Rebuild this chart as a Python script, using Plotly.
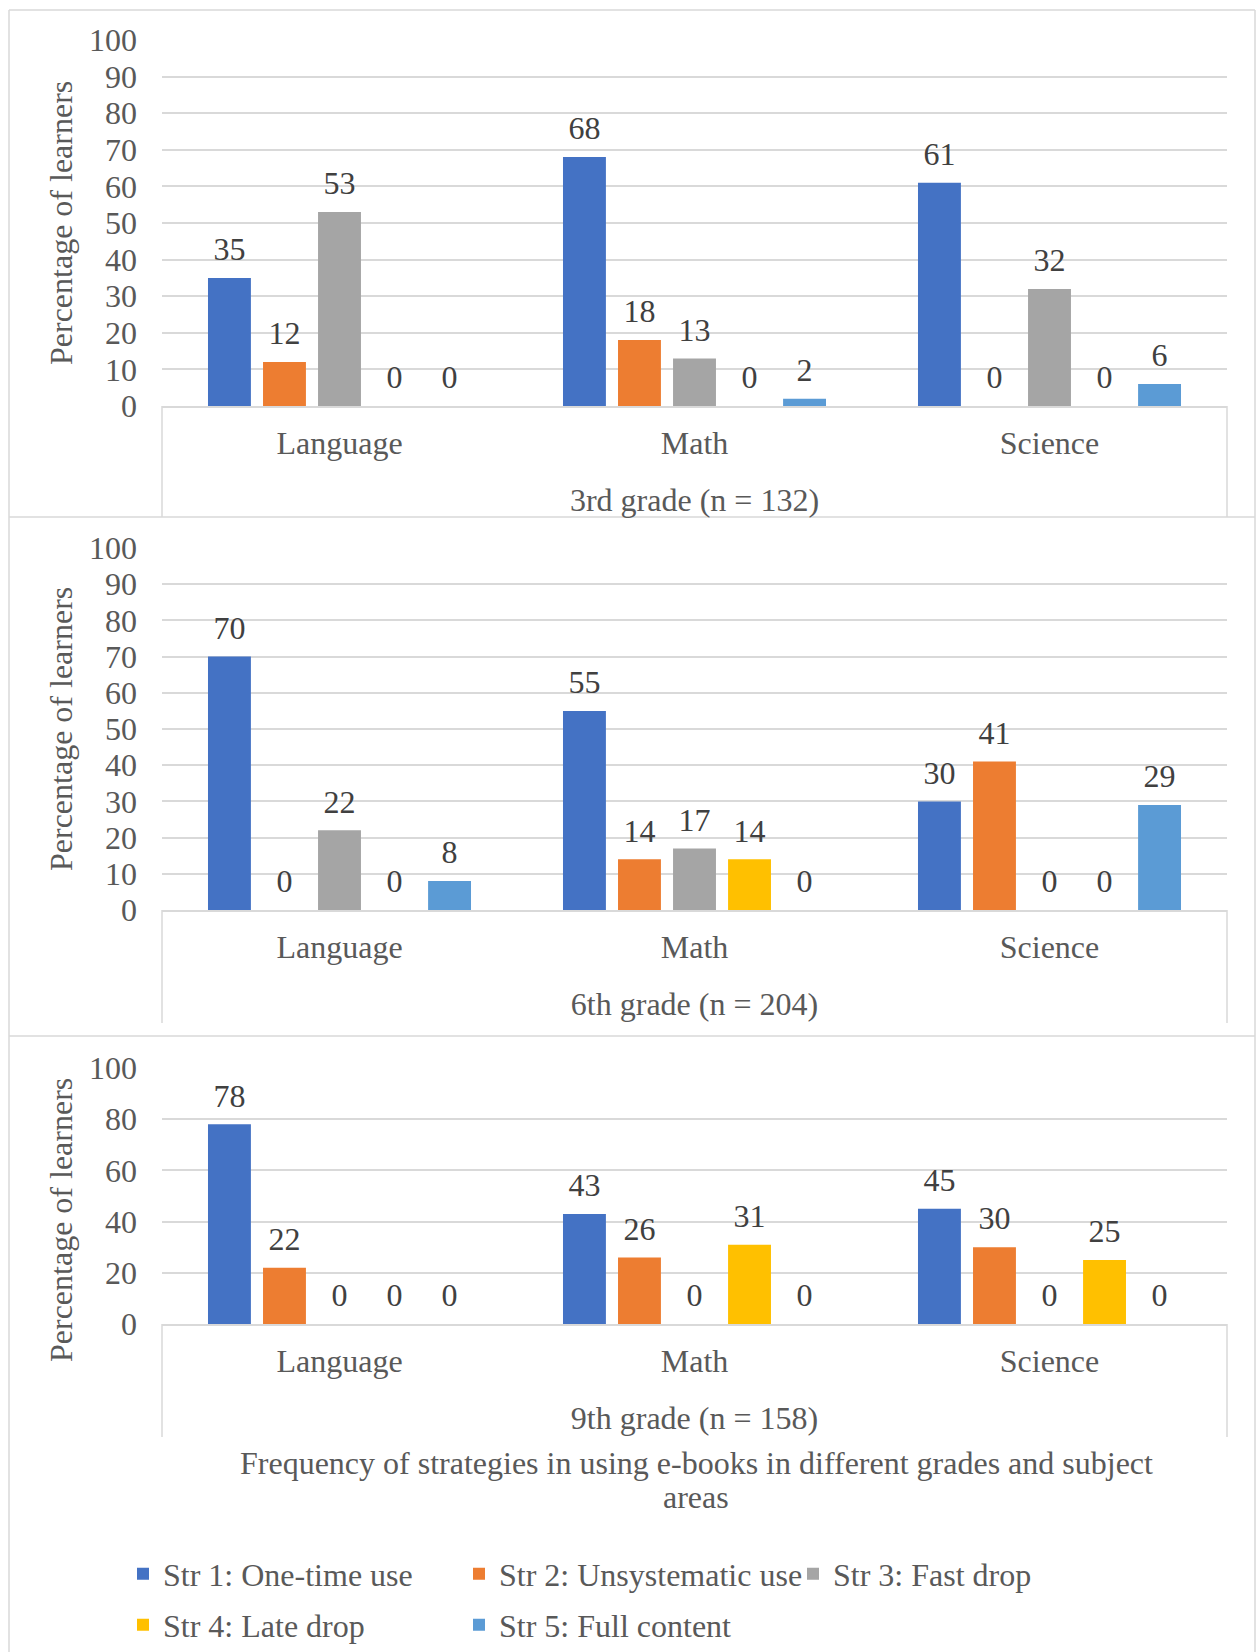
import plotly.graph_objects as go

# Strategy series and subject categories
subjects = ["Language", "Math", "Science"]
strategies = [
    "Str 1: One-time use",
    "Str 2: Unsystematic use",
    "Str 3: Fast drop",
    "Str 4: Late drop",
    "Str 5: Full content",
]
colors = ["#4472C4", "#ED7D31", "#A5A5A5", "#FFC000", "#5B9BD5"]
# each strategy gets its own legend box so the entries sit on a fixed grid
legend_ids = ["legend", "legend2", "legend3", "legend4", "legend5"]

grade_labels = ["3rd grade (n = 132)", "6th grade (n = 204)", "9th grade (n = 158)"]

# Percentage of learners per strategy (rows) across Language, Math, Science
grade3 = [
    [35, 68, 61],
    [12, 18, 0],
    [53, 13, 32],
    [0, 0, 0],
    [0, 2, 6],
]
grade6 = [
    [70, 55, 30],
    [0, 14, 41],
    [22, 17, 0],
    [0, 14, 0],
    [8, 0, 29],
]
grade9 = [
    [78, 43, 45],
    [22, 26, 30],
    [0, 0, 0],
    [0, 31, 25],
    [0, 0, 0],
]
grades = [grade3, grade6, grade9]
y_dticks = [10, 10, 20]

title_lines = [
    "Frequency of strategies in using e-books in different grades and subject",
    "areas",
]
y_title = "Percentage of learners"

# ---- layout geometry (pixels) ----
W, H = 1256, 1652
FONT = "Liberation Serif, Times New Roman, serif"
GRID = "#D9D9D9"
TXT = "#595959"
LBL = "#404040"
BARGAP = 0.225

plot_left, plot_right = 162, 1227
panels = [  # (top of plot, baseline, bottom of category box)
    (40, 406, 517),
    (548, 910, 1023),
    (1068, 1324, 1437),
]
ytitle_centers = [223, 729, 1220]
# legend grid: left edge of each entry and row centre
legend_pos = [(123, 1574), (459, 1574), (793, 1574), (123, 1625), (459, 1625)]


def fx(px):
    return px / W


def fy(py):
    return 1 - py / H


fig = go.Figure()

for p, data in enumerate(grades):
    ax = "" if p == 0 else str(p + 1)
    for s, name in enumerate(strategies):
        fig.add_trace(go.Bar(
            x=subjects,
            y=data[s],
            name=name,
            marker=dict(color=colors[s], line=dict(width=0)),
            offsetgroup=str(s),
            showlegend=(p == 0),
            legend=legend_ids[s],
            xaxis="x" + ax,
            yaxis="y" + ax,
            hoverinfo="skip",
        ))
    # value labels, grouped at the same offsets as the bars
    for s, name in enumerate(strategies):
        fig.add_trace(go.Scatter(
            x=subjects,
            y=data[s],
            mode="markers+text",
            text=[str(v) for v in data[s]],
            textposition="top center",
            textfont=dict(family=FONT, size=32, color=LBL),
            marker=dict(size=14, opacity=0, color=colors[s]),
            offsetgroup=str(s),
            cliponaxis=False,
            showlegend=False,
            xaxis="x" + ax,
            yaxis="y" + ax,
            hoverinfo="skip",
        ))

    top, base, box_bottom = panels[p]
    xa = dict(
        domain=[fx(plot_left), fx(plot_right)],
        anchor="y" + ax,
        type="category",
        showgrid=False,
        showline=True,
        linecolor=GRID,
        linewidth=1.5,
        ticks="",
        ticklabelstandoff=8,
        tickfont=dict(family=FONT, size=32, color=TXT),
        title=dict(text=grade_labels[p], font=dict(family=FONT, size=32, color=TXT), standoff=28),
        automargin=False,
        fixedrange=True,
    )
    ya = dict(
        domain=[fy(base), fy(top)],
        anchor="x" + ax,
        range=[0, 100],
        dtick=y_dticks[p],
        showgrid=True,
        gridcolor=GRID,
        gridwidth=1.5,
        zeroline=False,
        showline=False,
        ticks="",
        ticklabelstandoff=24,
        tickfont=dict(family=FONT, size=32, color=TXT),
        automargin=False,
        fixedrange=True,
    )
    fig.layout["xaxis" + ax] = xa
    fig.layout["yaxis" + ax] = ya

    # y-axis title for this panel
    fig.add_annotation(
        x=fx(61), y=fy(ytitle_centers[p]), xref="paper", yref="paper",
        text=y_title, textangle=-90, showarrow=False,
        font=dict(family=FONT, size=32, color=TXT),
        xanchor="center", yanchor="middle",
    )

    # category box side lines below the baseline
    for xx in (plot_left, plot_right):
        fig.add_shape(
            type="line", xref="paper", yref="paper",
            x0=fx(xx), x1=fx(xx), y0=fy(base), y1=fy(box_bottom),
            line=dict(color=GRID, width=1.5),
        )

# chart borders: outer frame and separators between the three grade panels
border = dict(color=GRID, width=1.5)
fig.add_shape(type="line", xref="paper", yref="paper", x0=fx(9), x1=fx(9), y0=fy(10), y1=0, line=border)
fig.add_shape(type="line", xref="paper", yref="paper", x0=fx(1255), x1=fx(1255), y0=fy(10), y1=0, line=border)
for yy in (10, 517, 1036):
    fig.add_shape(type="line", xref="paper", yref="paper", x0=fx(9), x1=fx(1255), y0=fy(yy), y1=fy(yy), line=border)

# overall chart title (two centred lines)
for line_text, yy in zip(title_lines, (1463, 1497)):
    fig.add_annotation(
        x=fx(696), y=fy(yy), xref="paper", yref="paper",
        text=line_text, showarrow=False,
        font=dict(family=FONT, size=32, color=TXT),
        xanchor="center", yanchor="middle", align="center",
    )

legend_common = dict(
    orientation="h",
    xanchor="left", yanchor="middle",
    font=dict(family=FONT, size=32, color=TXT),
    itemclick=False, itemdoubleclick=False,
    bgcolor="rgba(0,0,0,0)",
)

fig.update_layout(
    width=W, height=H,
    margin=dict(l=0, r=0, t=0, b=0, autoexpand=False),
    paper_bgcolor="white",
    plot_bgcolor="white",
    barmode="group",
    bargap=BARGAP,
    bargroupgap=0.22,
    scattermode="group",
    scattergap=BARGAP,
    showlegend=True,
)
for lid, (lx, ly) in zip(legend_ids, legend_pos):
    fig.layout[lid] = dict(x=fx(lx), y=fy(ly), **legend_common)

fig.write_html("out.html")
